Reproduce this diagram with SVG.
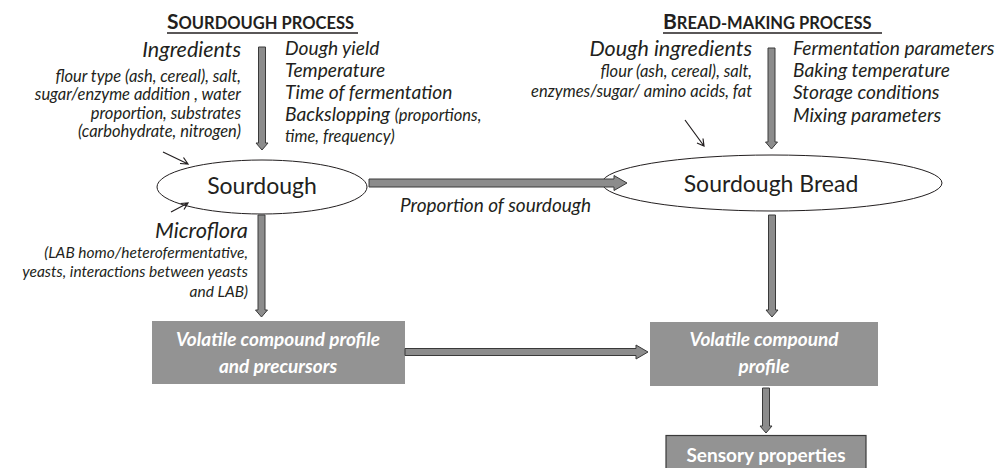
<svg xmlns="http://www.w3.org/2000/svg" width="995" height="468" viewBox="0 0 995 468">
<style>
.t{font-family:Lato,"Liberation Sans",sans-serif;fill:#231f20}
.i{font-style:italic}
.e{text-anchor:end}
.m{text-anchor:middle}
.ttl{font-weight:bold;font-size:21px}
.sc{font-size:16.5px}
.big{font-size:21.5px}
.mid{font-size:19.2px}
.sm{font-size:16.5px}
.xs{font-size:15.5px}
.node{font-size:23px}
.box{fill:#939393}
.bt{font-family:Lato,"Liberation Sans",sans-serif;font-weight:bold;font-style:italic;fill:#ffffff;font-size:19px;text-anchor:middle}
.bs{font-family:Lato,"Liberation Sans",sans-serif;font-weight:bold;fill:#ffffff;font-size:19px;text-anchor:middle}
.arr{fill:#8c8c8c;stroke:#3a3a3a;stroke-width:1}
.thin{stroke:#231f20;stroke-width:1.2;fill:none}
.ell{fill:#ffffff;stroke:#231f20;stroke-width:1}
.ul{stroke:#231f20;stroke-width:1.6}
</style>

<g id="title-sourdough-process">
<text class="t ttl" x="167" y="29">S<tspan class="sc">OURDOUGH PROCESS</tspan></text>
<line class="ul" x1="167" y1="33" x2="358" y2="33"/>
</g>
<g id="title-bread-making-process">
<text class="t ttl" x="663" y="29">B<tspan class="sc">READ-MAKING PROCESS</tspan></text>
<line class="ul" x1="663" y1="33" x2="882" y2="33"/>
</g>

<g id="sourdough-ingredients">
<text class="t i big e" x="241" y="57">Ingredients</text>
<text class="t i sm e" x="241" y="82">flour type (ash, cereal), salt,</text>
<text class="t i sm e" x="241" y="100">sugar/enzyme addition , water</text>
<text class="t i sm e" x="241" y="119">proportion, substrates</text>
<text class="t i sm e" x="241" y="137">(carbohydrate, nitrogen)</text>
</g>
<g id="sourdough-parameters">
<text class="t i mid" x="285" y="55">Dough yield</text>
<text class="t i mid" x="285" y="77">Temperature</text>
<text class="t i mid" x="285" y="99">Time of fermentation</text>
<text class="t i mid" x="285" y="121">Backslopping <tspan class="sm">(proportions,</tspan></text>
<text class="t i sm" x="285" y="142">time, frequency)</text>
</g>
<g id="bread-ingredients">
<text class="t i big e" x="752" y="56">Dough ingredients</text>
<text class="t i sm e" x="752" y="77">flour (ash, cereal), salt,</text>
<text class="t i sm e" x="752" y="97">enzymes/sugar/ amino acids, fat</text>
</g>
<g id="bread-parameters">
<text class="t i mid" x="793" y="55">Fermentation parameters</text>
<text class="t i mid" x="793" y="77">Baking temperature</text>
<text class="t i mid" x="793" y="99">Storage conditions</text>
<text class="t i mid" x="793" y="122">Mixing parameters</text>
</g>
<g id="microflora">
<text class="t i e" x="248" y="238" style="font-size:21.8px">Microflora</text>
<text class="t i xs e" x="248" y="258">(LAB homo/heterofermentative,</text>
<text class="t i xs e" x="248" y="277">yeasts, interactions between yeasts</text>
<text class="t i xs e" x="248" y="297">and LAB)</text>
</g>
<g id="proportion-label">
<text class="t i" x="400" y="212" style="font-size:19px">Proportion of sourdough</text>
</g>

<g id="sourdough">
<ellipse class="ell" cx="262" cy="187" rx="105" ry="27"/>
<text class="t node m" x="262" y="194">Sourdough</text>
</g>
<g id="sourdough-bread">
<ellipse class="ell" cx="772" cy="183" rx="170" ry="28"/>
<text class="t node m" x="771" y="192">Sourdough Bread</text>
</g>
<g id="volatile-precursors">
<rect class="box" x="152" y="321" width="253" height="63"/>
<text class="bt" x="278" y="346">Volatile compound profile</text>
<text class="bt" x="278" y="373">and precursors</text>
</g>
<g id="volatile-profile">
<rect class="box" x="650" y="322" width="228" height="64"/>
<text class="bt" x="764" y="346">Volatile compound</text>
<text class="bt" x="764" y="373">profile</text>
</g>
<g id="sensory-properties">
<rect class="box" x="666" y="435.5" width="200" height="40" stroke="#3a3a3a" stroke-width="1.2"/>
<text class="bs" x="766" y="462">Sensory properties</text>
</g>

<g id="connectors">
<path class="arr" d="M258.5,47 H265.5 V143 H268 L262,150 L256,143 H258.5 Z"/>
<path class="arr" d="M768,48 H775 V142 H777.5 L771.5,149 L765.5,142 H768 Z"/>
<path class="arr" d="M258,215 H265 V310 H267.5 L261.5,317 L255.5,310 H258 Z"/>
<path class="arr" d="M768.5,215 H775.5 V310 H778 L772,317 L766,310 H768.5 Z"/>
<path class="arr" d="M762.5,388 H769.5 V426 H772 L766,433 L760,426 H762.5 Z"/>
<path class="arr" d="M369,179 H614 V175.5 L627,183 L614,190.5 V187 H369 Z"/>
<path class="arr" d="M405,348.5 H636 V345 L648,352 L636,359 V355.5 H405 Z"/>
<path class="thin" d="M163,152 L188,164 M180,163.5 L188,164 L183.5,157.5"/>
<path class="thin" d="M171,212 L188,203 M180.5,203.5 L188,203 L184,209.5"/>
<path class="thin" d="M685,120 L704,146 M697,143 L704,146 L703,138.5"/>
</g>
</svg>
